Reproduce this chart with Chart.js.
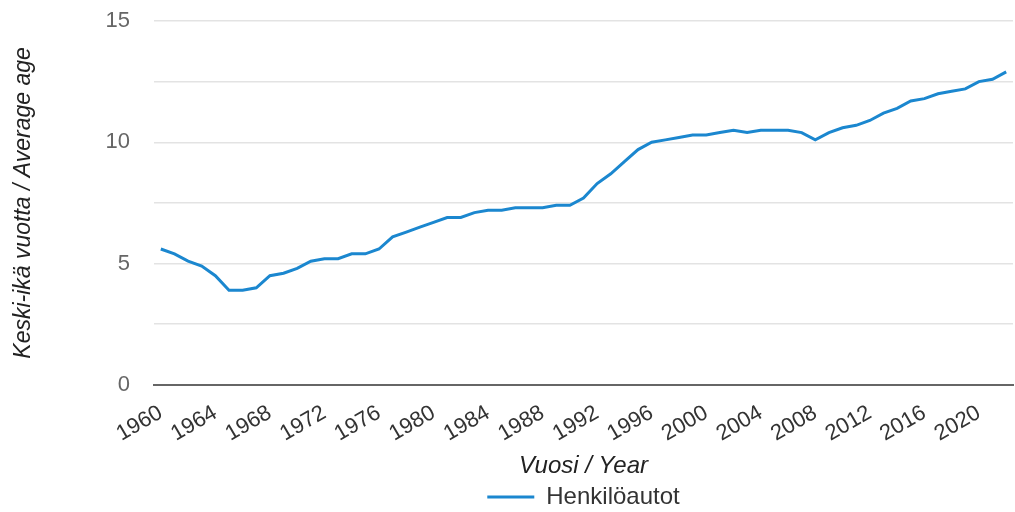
<!DOCTYPE html>
<html>
<head>
<meta charset="utf-8">
<script src="https://cdn.jsdelivr.net/npm/chart.js@4.4.1/dist/chart.umd.min.js"></script>
<style>
  html, body { margin: 0; padding: 0; background: #fff; }
  #wrap { width: 1015px; height: 512px; }
</style>
</head>
<body>
<div id="wrap"><canvas id="ageChart" width="1015" height="512"></canvas></div>
<script>
const years = [
  1960, 1961, 1962, 1963, 1964, 1965, 1966, 1967, 1968, 1969,
  1970, 1971, 1972, 1973, 1974, 1975, 1976, 1977, 1978, 1979,
  1980, 1981, 1982, 1983, 1984, 1985, 1986, 1987, 1988, 1989,
  1990, 1991, 1992, 1993, 1994, 1995, 1996, 1997, 1998, 1999,
  2000, 2001, 2002, 2003, 2004, 2005, 2006, 2007, 2008, 2009,
  2010, 2011, 2012, 2013, 2014, 2015, 2016, 2017, 2018, 2019,
  2020, 2021, 2022
];

// Henkilöautot, keski-ikä vuotta
const carAge = [
  5.6, 5.4, 5.1, 4.9, 4.5, 3.9, 3.9, 4.0, 4.5, 4.6,
  4.8, 5.1, 5.2, 5.2, 5.4, 5.4, 5.6, 6.1, 6.3, 6.5,
  6.7, 6.9, 6.9, 7.1, 7.2, 7.2, 7.3, 7.3, 7.3, 7.4,
  7.4, 7.7, 8.3, 8.7, 9.2, 9.7, 10.0, 10.1, 10.2, 10.3,
  10.3, 10.4, 10.5, 10.4, 10.5, 10.5, 10.5, 10.4, 10.1, 10.4,
  10.6, 10.7, 10.9, 11.2, 11.4, 11.7, 11.8, 12.0, 12.1, 12.2,
  12.5, 12.6, 12.9
];

const seriesName = 'Henkilöautot';
const yTitle = 'Keski-ikä vuotta / Average age';
const xTitle = 'Vuosi / Year';

const font = 'Arial, "Liberation Sans", sans-serif';
const ctx = document.getElementById('ageChart').getContext('2d');

// centre the legend under the plot area instead of the whole canvas
const legendUnderPlot = {
  id: 'legendUnderPlot',
  afterLayout(chart) {
    const lg = chart.legend;
    if (!lg) return;
    lg.left = chart.chartArea.left;
    lg.right = chart.chartArea.right;
    lg.width = lg.right - lg.left;
  }
};

new Chart(ctx, {
  type: 'line',
  data: {
    labels: years,
    datasets: [{
      label: seriesName,
      data: carAge,
      borderColor: '#1b87cf',
      backgroundColor: '#1b87cf',
      borderWidth: 3,
      pointRadius: 0,
      tension: 0,
      fill: false
    }]
  },
  plugins: [legendUnderPlot],
  options: {
    responsive: false,
    animation: false,
    devicePixelRatio: 1,
    layout: { padding: { top: 21, right: 2, left: 0, bottom: -7 } },
    plugins: {
      tooltip: { enabled: false },
      legend: {
        position: 'bottom',
        labels: {
          usePointStyle: true,
          pointStyle: 'line',
          pointStyleWidth: 47,
          color: '#333',
          padding: 0,
          font: { family: font, size: 24 }
        }
      }
    },
    scales: {
      x: {
        type: 'category',
        offset: true,
        grid: { display: false, drawTicks: true, tickLength: 15, tickColor: 'rgba(0,0,0,0)' },
        border: { display: true, color: '#666', width: 2 },
        afterFit: function (scale) { scale.paddingRight = 0; },
        title: {
          display: true,
          text: xTitle,
          color: '#222',
          padding: { top: 5, bottom: 4 },
          font: { family: font, size: 24, style: 'italic' }
        },
        ticks: {
          autoSkip: false,
          minRotation: 30,
          maxRotation: 30,
          color: '#333',
          padding: 0,
          font: { family: font, size: 22 },
          callback: function (val, i) {
            const y = years[i];
            return y % 4 === 0 ? String(y) : '';
          }
        }
      },
      y: {
        min: 0,
        max: 15,
        border: { display: false },
        grid: { color: '#e3e3e3', lineWidth: 1.5, drawTicks: true, tickLength: 24, tickColor: 'rgba(0,0,0,0)' },
        afterFit: function (scale) { scale.width = 154; },
        title: {
          display: true,
          text: yTitle,
          color: '#222',
          padding: { top: 10, bottom: 0 },
          font: { family: font, size: 23, style: 'italic' }
        },
        ticks: {
          stepSize: 2.5,
          padding: 0,
          color: '#666',
          font: { family: font, size: 22 },
          callback: function (v) {
            return v % 5 === 0 ? v : '';
          }
        }
      }
    }
  }
});
</script>
</body>
</html>
